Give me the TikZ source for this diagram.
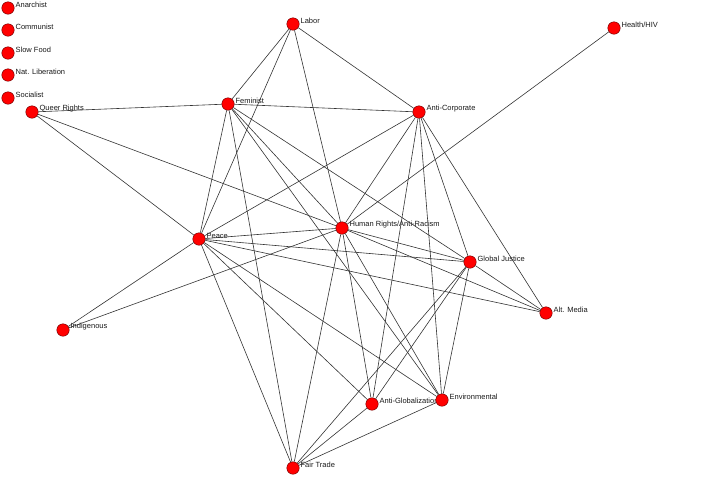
\documentclass[tikz,border=0pt]{standalone}
\usepackage{fontspec}
\setmainfont{Liberation Sans}

\begin{document}
\begin{tikzpicture}[x=1pt,y=-1pt,
    org/.style={circle,draw=black!60!red,fill=red,minimum size=12.5pt,inner sep=0pt},
    lbl/.style={font=\fontsize{7.5}{9}\selectfont,text=black!90,inner sep=1pt,yshift=3pt},
    tie/.style={draw=black!80,line width=0.6pt}]
    \useasboundingbox (0,0) rectangle (719,499);

    \node[org,label={[lbl]right:Anarchist}] (anarch) at (8,8) {};
    \node[org,label={[lbl]right:Communist}] (commun) at (8,30) {};
    \node[org,label={[lbl]right:Slow Food}] (slow) at (8,53) {};
    \node[org,label={[lbl]right:Nat. Liberation}] (natlib) at (8,75) {};
    \node[org,label={[lbl]right:Socialist}] (social) at (8,98) {};
    \node[org,label={[lbl]right:Queer Rights}] (queer) at (32,112) {};
    \node[org,label={[lbl]right:Labor}] (labor) at (293,24) {};
    \node[org,label={[lbl]right:Health/HIV}] (health) at (614,28) {};
    \node[org,label={[lbl]right:Feminist}] (fem) at (228,104) {};
    \node[org,label={[lbl]right:Anti-Corporate}] (corp) at (419,112) {};
    \node[org,label={[lbl]right:Human Rights/Anti-Racism}] (hr) at (342,228) {};
    \node[org,label={[lbl]right:Peace}] (peace) at (199,239) {};
    \node[org,label={[lbl]right:Global Justice}] (gj) at (470,262) {};
    \node[org,label={[lbl]right:Alt. Media}] (media) at (546,313) {};
    \node[org,label={[lbl]right:Indigenous}] (indig) at (63,330) {};
    \node[org,label={[lbl]right:Anti-Globalization}] (antiglob) at (372,404) {};
    \node[org,label={[lbl]right:Environmental}] (env) at (442,400) {};
    \node[org,label={[lbl]right:Fair Trade}] (fair) at (293,468) {};

    \draw[tie] (labor) -- (fem);
    \draw[tie] (labor) -- (peace);
    \draw[tie] (labor) -- (hr);
    \draw[tie] (labor) -- (corp);
    \draw[tie] (queer) -- (fem);
    \draw[tie] (queer) -- (peace);
    \draw[tie] (queer) -- (hr);
    \draw[tie] (fem) -- (corp);
    \draw[tie] (fem) -- (peace);
    \draw[tie] (fem) -- (fair);
    \draw[tie] (fem) -- (env);
    \draw[tie] (fem) -- (hr);
    \draw[tie] (fem) -- (gj);
    \draw[tie] (corp) -- (peace);
    \draw[tie] (corp) -- (hr);
    \draw[tie] (corp) -- (antiglob);
    \draw[tie] (corp) -- (env);
    \draw[tie] (corp) -- (gj);
    \draw[tie] (corp) -- (media);
    \draw[tie] (health) -- (hr);
    \draw[tie] (peace) -- (indig);
    \draw[tie] (peace) -- (hr);
    \draw[tie] (peace) -- (gj);
    \draw[tie] (peace) -- (media);
    \draw[tie] (peace) -- (antiglob);
    \draw[tie] (peace) -- (env);
    \draw[tie] (peace) -- (fair);
    \draw[tie] (indig) -- (hr);
    \draw[tie] (hr) -- (gj);
    \draw[tie] (hr) -- (media);
    \draw[tie] (hr) -- (antiglob);
    \draw[tie] (hr) -- (env);
    \draw[tie] (hr) -- (fair);
    \draw[tie] (gj) -- (media);
    \draw[tie] (gj) -- (antiglob);
    \draw[tie] (gj) -- (env);
    \draw[tie] (gj) -- (fair);
    \draw[tie] (antiglob) -- (fair);
    \draw[tie] (env) -- (fair);
\end{tikzpicture}
\end{document}
